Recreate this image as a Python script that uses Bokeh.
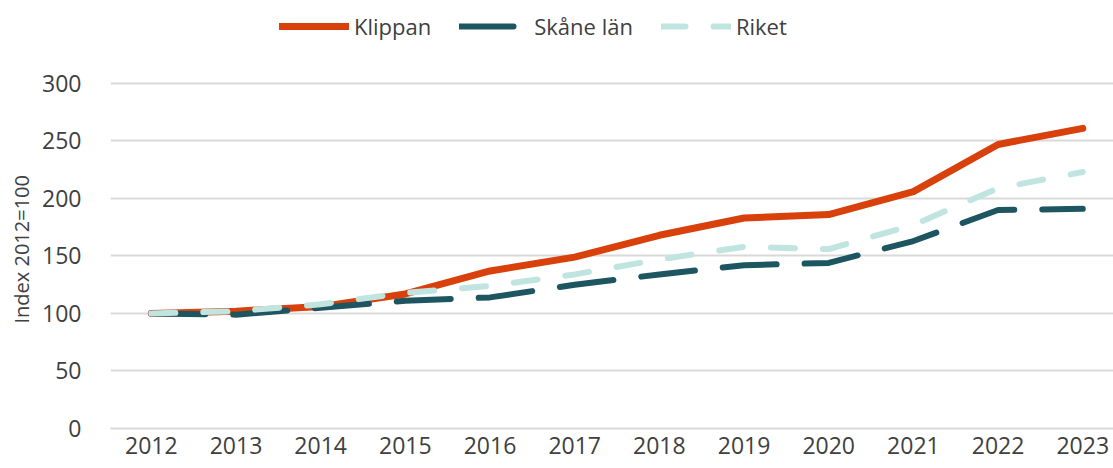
from bokeh.plotting import figure
from bokeh.models import Legend, LegendItem, FixedTicker, Title
from bokeh.embed import file_html
from bokeh.resources import INLINE

years = [2012, 2013, 2014, 2015, 2016, 2017, 2018, 2019, 2020, 2021, 2022, 2023]
klippan = [100, 102, 106, 117, 137, 149, 168, 183, 186, 206, 247, 261]
skane = [100, 99, 105, 111, 114, 125, 134, 142, 144, 163, 190, 191]
riket = [100, 102, 108, 118, 124, 134, 147, 158, 156, 177, 209, 223]
y_ticks = [0, 50, 100, 150, 200, 250, 300]

FONT = "Open Sans"
TXT = "#404040"
GRID = "#d9d9d9"

# frame spans the whole height above the x axis; the top part holds the legend
p = figure(width=1113, height=468, output_backend="svg", toolbar_location=None,
           x_range=(2011.518, 2023.363), y_range=(0, 372.17),
           min_border_left=105, min_border_right=0, min_border_top=0, min_border_bottom=40)
p.outline_line_color = None
p.background_fill_color = "white"
p.border_fill_color = "white"

p.xgrid.grid_line_color = None
p.ygrid.grid_line_color = GRID
p.ygrid.grid_line_width = 2
p.ygrid.ticker = FixedTicker(ticks=y_ticks)

p.xaxis.ticker = FixedTicker(ticks=years)
p.xaxis.axis_line_color = GRID
p.xaxis.axis_line_width = 2
p.xaxis.major_tick_line_color = None
p.xaxis.minor_tick_line_color = None
p.xaxis.major_tick_out = 0
p.xaxis.major_label_standoff = 8
p.xaxis.major_label_text_font = FONT
p.xaxis.major_label_text_font_size = "23px"
p.xaxis.major_label_text_color = TXT

p.yaxis.ticker = FixedTicker(ticks=y_ticks)
p.yaxis.axis_line_color = None
p.yaxis.major_tick_line_color = None
p.yaxis.minor_tick_line_color = None
p.yaxis.major_tick_out = 0
p.yaxis.major_label_standoff = 29
p.yaxis.major_label_text_font = FONT
p.yaxis.major_label_text_font_size = "23px"
p.yaxis.major_label_text_color = TXT

ytitle = Title(text="Index 2012=100", align="left", offset=105, standoff=10,
               text_font=FONT, text_font_size="20px", text_font_style="normal",
               text_color=TXT)
p.add_layout(ytitle, "left")

r1 = p.line(years, klippan, line_color="#D8410C", line_width=7,
            line_cap="round", line_join="round")
r2 = p.line(years, skane, line_color="#1D5661", line_width=6,
            line_cap="round", line_join="round", line_dash="54 28")
r3 = p.line(years, riket, line_color="#C0E5E0", line_width=6,
            line_cap="round", line_join="round", line_dash="24 28")

legend = Legend(items=[LegendItem(label="Klippan", renderers=[r1]),
                       LegendItem(label="Skåne län", renderers=[r2]),
                       LegendItem(label="Riket", renderers=[r3])],
                orientation="horizontal", location=(169, 387),
                glyph_width=70, glyph_height=20, label_standoff=5, spacing=28,
                padding=0, margin=0, border_line_color=None,
                background_fill_alpha=0,
                label_text_font=FONT, label_text_font_size="22px",
                label_text_color=TXT)
p.add_layout(legend, "center")

open("out.html", "w").write(file_html(p, INLINE))
